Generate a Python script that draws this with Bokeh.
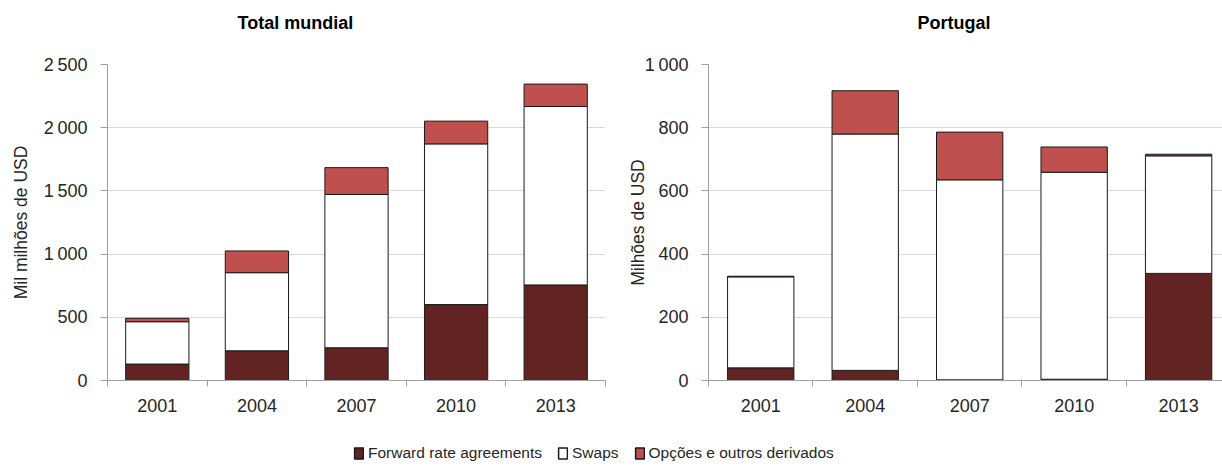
from bokeh.plotting import figure
from bokeh.layouts import row, column
from bokeh.models import Range1d, FixedTicker, Legend, LegendItem, Title
from bokeh.embed import file_html
from bokeh.resources import INLINE

# ---- data ----
years = ["2001", "2004", "2007", "2010", "2013"]
series = ["Forward rate agreements", "Swaps", "Opções e outros derivados"]
world_fra = [130, 235, 259, 601, 756]
world_swaps = [335, 618, 1213, 1271, 1412]
world_opt = [27, 172, 212, 180, 177]
pt_fra = [40, 32, 2, 4, 339]
pt_swaps = [288, 748, 633, 655, 372]
pt_opt = [2, 137, 151, 80, 5]
world_yticks = [0, 500, 1000, 1500, 2000, 2500]
pt_yticks = [0, 200, 400, 600, 800, 1000]

colors = ["#622423", "#ffffff", "#c0504d"]
FONT = "Liberation Sans"
TXT = "#262626"
AX = "#a0a0a0"
keys = ["fra", "swaps", "opt"]


def fmt(v):
    return f"{v:,}".replace(",", "\u2009")


def make(title, ylabel, fra, swaps, opt, yticks, width, xend, mb_left, mb_right, mb_top,
         title_offset, label_standoff):
    x = list(range(len(years)))
    p = figure(width=width, height=420, x_range=Range1d(-0.5, xend),
               y_range=Range1d(0, yticks[-1]), output_backend="svg",
               toolbar_location=None, min_border_left=mb_left,
               min_border_right=mb_right, min_border_top=mb_top,
               min_border_bottom=40)
    p.outline_line_color = None
    src = {"x": x, "fra": fra, "swaps": swaps, "opt": opt}
    p.vbar_stack(keys, x="x", width=0.635, source=src,
                 fill_color=colors, line_color="#1a1a1a", line_width=1)
    # titles: a spacer closest to the frame, then the visible title
    p.add_layout(Title(text=" ", text_font=FONT, text_font_size="27px", standoff=0), "above")
    p.add_layout(Title(text=title, align="left", offset=title_offset, text_font=FONT,
                       text_font_size="18px", text_font_style="bold",
                       text_color="#000000", standoff=0), "above")
    # grids
    p.xgrid.visible = False
    p.ygrid.ticker = FixedTicker(ticks=yticks)
    p.ygrid.grid_line_color = "#d9d9d9"
    p.ygrid.grid_line_width = 1
    # x axis
    xa = p.xaxis[0]
    xa.ticker = FixedTicker(ticks=x, minor_ticks=[i - 0.5 for i in range(len(years) + 1)])
    xa.major_label_overrides = {i: y for i, y in enumerate(years)}
    xa.major_tick_out = 0
    xa.major_tick_in = 0
    xa.minor_tick_out = 6
    xa.minor_tick_in = 0
    xa.minor_tick_line_color = AX
    xa.axis_line_color = AX
    xa.major_label_text_font = FONT
    xa.major_label_text_font_size = "18px"
    xa.major_label_text_color = TXT
    xa.major_label_standoff = 12
    # y axis
    ya = p.yaxis[0]
    ya.ticker = FixedTicker(ticks=yticks)
    ya.major_label_overrides = {t: fmt(t) for t in yticks}
    ya.major_tick_out = 7
    ya.major_tick_in = 0
    ya.minor_tick_out = 0
    ya.minor_tick_in = 0
    ya.major_tick_line_color = AX
    ya.axis_line_color = AX
    ya.major_label_text_font = FONT
    ya.major_label_text_font_size = "18px"
    ya.major_label_text_color = TXT
    ya.major_label_standoff = 13
    ya.axis_label = ylabel
    ya.axis_label_text_font = FONT
    ya.axis_label_text_font_size = "17.5px"
    ya.axis_label_text_font_style = "normal"
    ya.axis_label_text_color = TXT
    ya.axis_label_standoff = label_standoff
    return p


p1 = make("Total mundial", "Mil milhões de USD", world_fra, world_swaps, world_opt,
          world_yticks, 608, 4.5, 107, 3, 62, 130, 10)
p2 = make("Portugal", "Milhões de USD", pt_fra, pt_swaps, pt_opt,
          pt_yticks, 614, 4.42, 100, 0, 64, 209, -6)

# legend figure (its bars are hidden; only the legend is shown)
pl = figure(width=1222, height=49, x_range=Range1d(-0.5, 4.5), y_range=Range1d(0, 1),
            x_axis_type=None, y_axis_type=None, output_backend="svg",
            toolbar_location=None, min_border=0)
pl.outline_line_color = None
lsrc = {"x": list(range(len(years))), "fra": world_fra, "swaps": world_swaps, "opt": world_opt}
rs = pl.vbar_stack(keys, x="x", width=0.635, source=lsrc, fill_color=colors,
                   line_color="#1a1a1a", line_width=1.5)
for r in rs:
    r.visible = False
items = [LegendItem(label=name, renderers=[r]) for name, r in zip(series, rs)]
leg = Legend(items=items, orientation="horizontal", location=(353, 7),
             glyph_width=11, glyph_height=14, label_standoff=4, spacing=15,
             padding=0, margin=0, border_line_color=None, background_fill_alpha=0,
             inactive_fill_alpha=0,
             label_text_font=FONT, label_text_font_size="15.5px", label_text_color=TXT)
pl.add_layout(leg, "center")

layout = column(row(p1, p2), pl)
open("out.html", "w").write(file_html(layout, INLINE))
